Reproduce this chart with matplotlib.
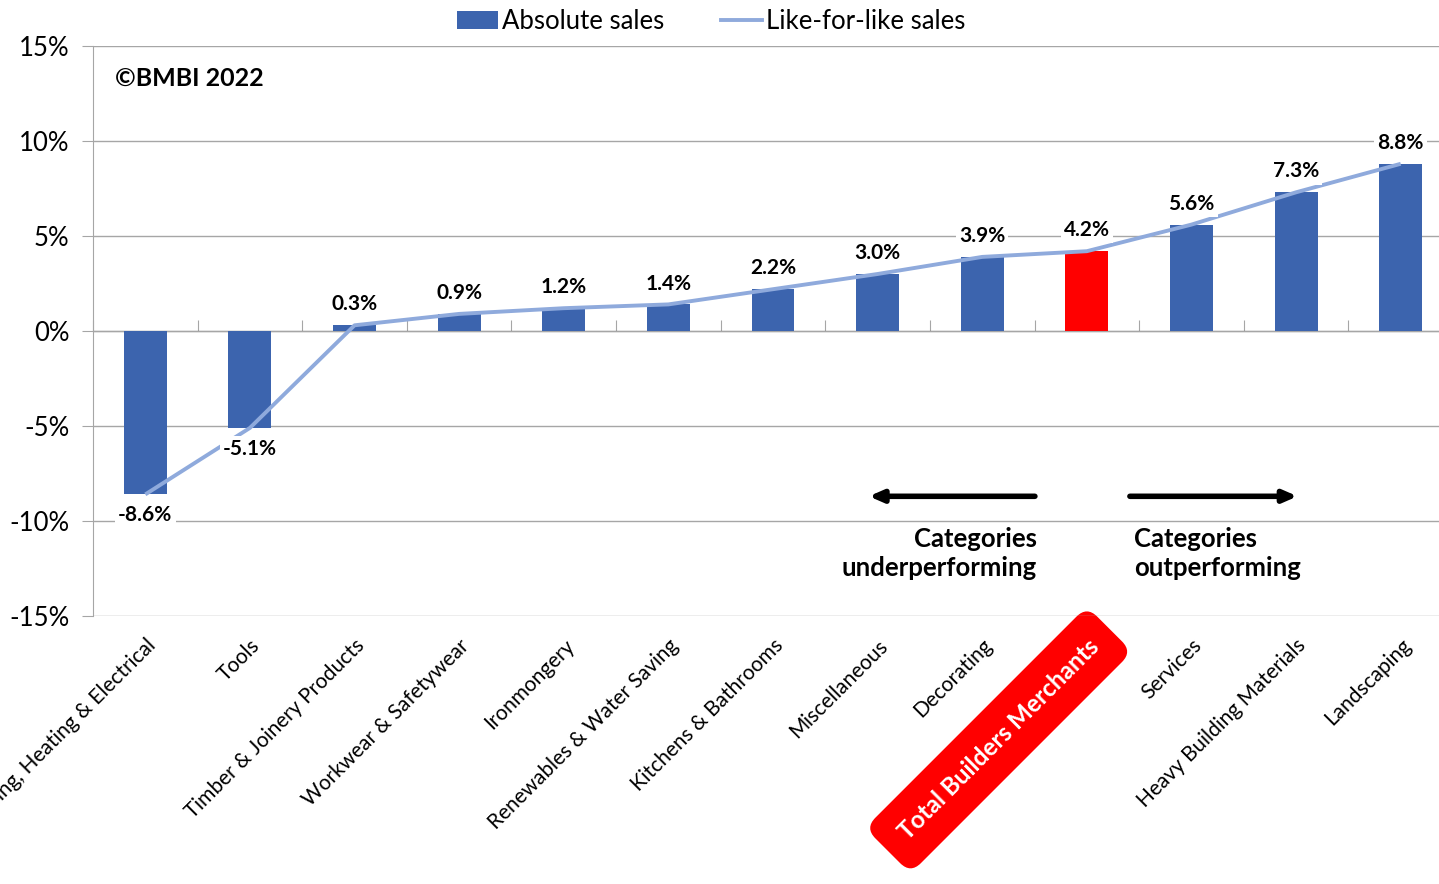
import matplotlib
matplotlib.use("Agg")
import matplotlib.pyplot as plt
import numpy as np
from matplotlib.lines import Line2D
from matplotlib.patches import Patch

categories = ["Plumbing, Heating & Electrical", "Tools", "Timber & Joinery Products",
              "Workwear & Safetywear", "Ironmongery", "Renewables & Water Saving",
              "Kitchens & Bathrooms", "Miscellaneous", "Decorating",
              "Total Builders Merchants", "Services", "Heavy Building Materials",
              "Landscaping"]
absolute_sales = [-8.6, -5.1, 0.3, 0.9, 1.2, 1.4, 2.2, 3.0, 3.9, 4.2, 5.6, 7.3, 8.8]
like_for_like = [-8.6, -5.1, 0.3, 0.9, 1.2, 1.4, 2.2, 3.0, 3.9, 4.2, 5.6, 7.3, 8.8]
highlight = "Total Builders Merchants"
yticks = [-15, -10, -5, 0, 5, 10, 15]

plt.rcParams['font.family'] = ['Lato', 'DejaVu Sans']

BLUE = "#3C64AE"
RED = "#FF0000"
LINE = "#8FAADC"
GRID = "#A6A6A6"

fig = plt.figure(figsize=(14.39, 8.84), dpi=100)
ax = fig.add_axes([93/1439, 268/884, (1453-93)/1439, (616-46)/884])

n = len(categories)
x = np.arange(n)
colors = [RED if c == highlight else BLUE for c in categories]
ax.bar(x, absolute_sales, width=0.41, color=colors, zorder=2)
ax.plot(x, like_for_like, color=LINE, lw=2.8, zorder=3, solid_capstyle='butt')

for xi, v in zip(x, like_for_like):
    off = 15 if v >= 0 else -15
    ax.annotate(f"{v:.1f}%", (xi, v), xytext=(0, off), textcoords='offset points',
                ha='center', va='center', fontsize=15, fontweight='bold', color='black',
                bbox=dict(boxstyle='square,pad=0.15', fc='white', ec='none'), zorder=4)

ax.set_xlim(-0.5, n - 0.5)
ax.set_ylim(-15, 15)
ax.set_yticks(yticks)
ax.set_yticklabels([f"{t}%" for t in yticks], fontsize=18.5)
ax.yaxis.grid(True, color=GRID, lw=1)
ax.set_axisbelow(True)
for s in ['top', 'right', 'bottom']:
    ax.spines[s].set_visible(False)
ax.spines['left'].set_color(GRID)
ax.tick_params(axis='y', length=8, color=GRID, pad=9)

ax.set_xticks(x)
ax.tick_params(axis='x', length=0, pad=14)
labels = ax.set_xticklabels(categories, rotation=45, ha='right', va='top',
                            rotation_mode='anchor', fontsize=15)
for lab in labels:
    if lab.get_text() == highlight:
        lab.set_color('white')
        lab.set_fontweight('bold')
        lab.set_fontsize(17.5)
        lab.set_bbox(dict(boxstyle='round,pad=0.85,rounding_size=0.6', fc=RED, ec='none'))

sec = ax.secondary_xaxis(0.5)
sec.set_xticks(np.arange(n + 1) - 0.5)
sec.set_xticklabels([])
sec.tick_params(length=8, color=GRID)
sec.spines['bottom'].set_color(GRID)

ax.text(0.016, 0.944, "©BMBI 2022", transform=ax.transAxes, fontsize=18, fontweight='bold',
        ha='left', va='center')

ax.annotate("", xy=(6.89, -8.7), xytext=(8.53, -8.7),
            arrowprops=dict(arrowstyle='-|>,head_length=0.8,head_width=0.35', lw=4, color='black'))
ax.annotate("", xy=(11.04, -8.7), xytext=(9.385, -8.7),
            arrowprops=dict(arrowstyle='-|>,head_length=0.8,head_width=0.35', lw=4, color='black'))
ax.text(8.52, -11.7, "Categories\nunderperforming", ha='right', va='center', fontsize=18.5,
        fontweight='bold', linespacing=1.25)
ax.text(9.45, -11.7, "Categories\noutperforming", ha='left', va='center', fontsize=18.5,
        fontweight='bold', linespacing=1.25)

handles = [Patch(facecolor=BLUE, edgecolor='none'),
           Line2D([0], [0], color=LINE, lw=2.8)]
fig.legend(handles, ["Absolute sales", "Like-for-like sales"], loc='upper center',
           bbox_to_anchor=(0.494, 1.016), ncol=2, frameon=False, fontsize=18.5,
           handlelength=1.6, handletextpad=0.15, columnspacing=2.2)

fig.savefig("out.png", dpi=100)
